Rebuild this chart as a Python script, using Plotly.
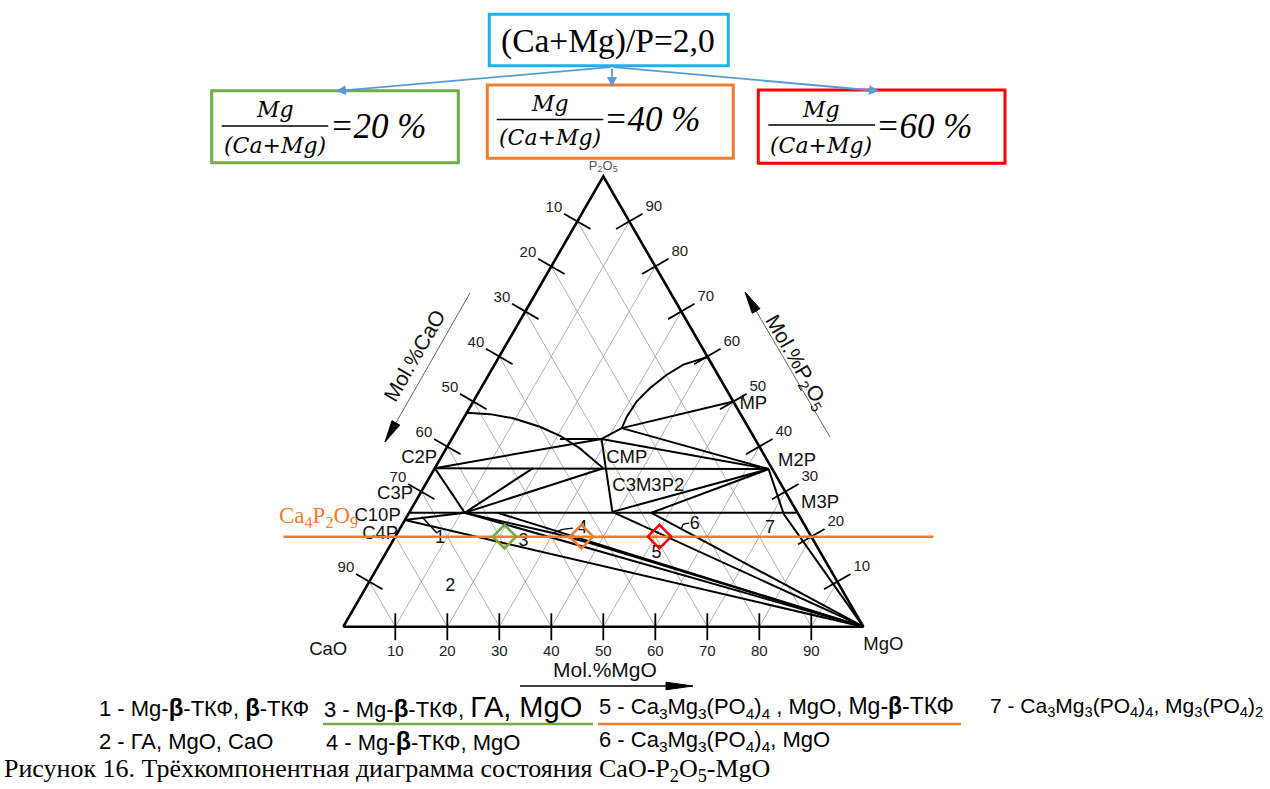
import plotly.graph_objects as go

W, H = 1270, 789

# ================= DATA (mol.%) =================
# every composition is given as (MgO %, P2O5 %);  CaO = 100 - MgO - P2O5

# scale ticks and grid
left_tick_cao = [10, 20, 30, 40, 50, 60, 70, 90]
right_tick_p2o5 = [10, 20, 30, 40, 50, 60, 70, 80, 90]
bottom_tick_mgo = [10, 20, 30, 40, 50, 60, 70, 80, 90]
grid_values = [10, 20, 30, 40, 50, 60, 70, 80, 90]

# phase boundaries and tie lines
curve_left_mgo = [0.0, 4.6, 9.5, 15.6, 20.5, 25.7, 29.6, 32.4]
curve_left_p2o5 = [47.5, 47.2, 46.3, 44.4, 42.4, 39.6, 37.0, 35.2]
curve_right_mgo = [31.5, 31.2, 31.4, 32.5, 34.2, 36.3, 40.1]
curve_right_p2o5 = [44.1, 46.7, 50.0, 53.0, 55.9, 58.2, 59.9]
c2p_m2p_mgo, c2p_m2p_p2o5 = [0.0, 64.3], [35.2, 35.0]
c2p_x_mgo, c2p_x_p2o5 = [0.0, 28.8], [35.2, 41.7]
x_m2p_mgo, x_m2p_p2o5 = [28.8, 64.3], [41.7, 35.0]
y_m2p_mgo, y_m2p_p2o5 = [31.5, 64.3], [44.1, 35.0]
x_y_mgo, x_y_p2o5 = [28.8, 31.5], [41.7, 44.1]
y_mp_mgo, y_mp_p2o5 = [31.5, 50.0], [44.1, 50.0]
top_seg_mgo, top_seg_p2o5 = [20.8, 28.8], [41.7, 41.7]
x_w_mgo, x_w_p2o5 = [28.8, 39.0], [41.7, 25.5]
w_m2p_mgo, w_m2p_p2o5 = [39.0, 64.3], [25.5, 35.0]
v_m2p_mgo, v_m2p_p2o5 = [46.6, 64.3], [25.3, 35.0]
c3p_m3p_mgo, c3p_m3p_p2o5 = [0.0, 74.7], [25.3, 25.3]
m2p_mgo_mgo, m2p_mgo_p2o5 = [64.3, 72.2, 100.0], [35.0, 25.0, 0.0]
w_mgo_mgo, w_mgo_p2o5 = [39.0, 100.0], [25.5, 0.0]
v_mgo_mgo, v_mgo_p2o5 = [46.6, 100.0], [25.3, 0.0]
c10p_z_mgo, c10p_z_p2o5 = [0.0, 10.7], [23.7, 25.3]
c10p_mgo_mgo, c10p_mgo_p2o5 = [0.0, 100.0], [23.7, 0.0]
z_c2p_mgo, z_c2p_p2o5 = [10.7, 0.0], [25.3, 35.2]
z_a_mgo, z_a_p2o5 = [10.7, 18.9], [25.3, 35.2]
z_e_mgo, z_e_p2o5 = [10.7, 32.4], [25.3, 35.2]
z_mgo_mgo, z_mgo_p2o5 = [10.7, 29.9, 38.1, 100.0], [25.3, 20.8, 18.6, 0.0]
z2_mgo_mgo, z2_mgo_p2o5 = [10.7, 100.0], [25.3, 0.0]
z3_mgo_mgo, z3_mgo_p2o5 = [17.0, 100.0], [25.3, 0.0]

# short leader marks next to field numbers 1, 4 and 6
leader1_mgo, leader1_p2o5 = [2.9, 7.6], [24.4, 20.8]
leader4_mgo, leader4_p2o5 = [29.9, 31.4, 33.2], [20.8, 21.6, 21.9]
leader6_mgo, leader6_p2o5 = [54.1, 54.0, 55.0], [21.7, 22.8, 23.0]

# Ca4P2O9 section line (P2O5 = 20 %)
section_mgo = [-21.5, 103.5]
section_p2o5 = [20.0, 20.0]

# studied compositions, Mg/(Ca+Mg) = 20, 40, 60 %
sample_mgo = [21.0, 35.8, 50.8]
sample_p2o5 = [20.0, 20.0, 20.0]
sample_colors = ["#70AD47", "#ED7D31", "#FF0000"]

# labels placed in composition space
phase_labels = ["C2P", "C3P", "C10P", "C4P", "CMP", "C3M3P2", "MP", "M2P", "M3P"]
phase_label_mgo = [-4.1, -4.7, -5.6, -3.2, 35.8, 43.1, 54.2, 68.9, 78.0]
phase_label_p2o5 = [37.4, 29.3, 24.4, 20.6, 37.4, 31.1, 49.3, 36.7, 27.4]
region_labels = ["1", "2", "3", "4", "5", "6", "7"]
region_label_mgo = [8.8, 16.1, 25.2, 35.0, 52.1, 56.3, 71.1]
region_label_p2o5 = [19.6, 8.9, 18.9, 21.9, 16.3, 22.6, 21.9]
vertex_labels = ["CaO", "MgO"]
vertex_label_mgo = [-0.3, 105.9]
vertex_label_p2o5 = [-5.2, -4.1]
apex_label_mgo, apex_label_p2o5 = [-1.1], [102.2]

legend_row1 = [
    "1 - Mg-<span style='font-size:24px'><b>β</b></span>-ТКФ, <span style='font-size:24px'><b>β</b></span>-ТКФ",
    "3 - Mg-<span style='font-size:24px'><b>β</b></span>-ТКФ, <span style='font-size:29px'>ГА, MgO</span>",
    "5 - Ca<sub>3</sub>Mg<sub>3</sub>(PO<sub>4</sub>)<sub>4</sub> , MgO, <span style='font-size:23px'>Mg-<b>β</b>-ТКФ</span>",
    "<span style='font-size:21px'>7 - Ca<sub>3</sub>Mg<sub>3</sub>(PO<sub>4</sub>)<sub>4</sub>, Mg<sub>3</sub>(PO<sub>4</sub>)<sub>2</sub></span>",
]
legend_row2 = [
    "2 - ГА, MgO, CaO",
    "4 - Mg-<span style='font-size:25px'><b>β</b></span>-ТКФ, MgO",
    "6 - Ca<sub>3</sub>Mg<sub>3</sub>(PO<sub>4</sub>)<sub>4</sub>, MgO",
]
ratio_values = ["20", "40", "60"]

# ================= helpers =================
S3 = 3 ** 0.5 / 2


def proj(mgo, p2o5):
    """ternary (MgO, P2O5) -> cartesian plane of the triangle (CaO at origin)"""
    xs, ys = [], []
    for m, p in zip(mgo, p2o5):
        if m is None:
            xs.append(None); ys.append(None)
        else:
            xs.append(m + p / 2); ys.append(p * S3)
    return dict(x=xs, y=ys)


def X(px):
    return px / W


def Y(py):
    return 1 - py / H


SANS = "Liberation Sans, Arial, sans-serif"
SERIF = "Liberation Serif, Times New Roman, serif"

fig = go.Figure()

# ---- grid (iso-CaO and iso-MgO lines) ----
gm, gp = [], []
for v in grid_values:
    gm += [v, v, None]; gp += [0, 100 - v, None]          # constant MgO
    gm += [100 - v, 0, None]; gp += [0, 100 - v, None]    # constant CaO
fig.add_trace(go.Scatter(**proj(gm, gp), mode="lines",
                         line=dict(color="#9c9c9c", width=0.8), hoverinfo="skip"))

# ---- phase boundary lines ----
lines = [
    (curve_left_mgo, curve_left_p2o5), (curve_right_mgo, curve_right_p2o5),
    (c2p_m2p_mgo, c2p_m2p_p2o5), (c2p_x_mgo, c2p_x_p2o5), (x_m2p_mgo, x_m2p_p2o5),
    (y_m2p_mgo, y_m2p_p2o5), (x_y_mgo, x_y_p2o5), (y_mp_mgo, y_mp_p2o5),
    (top_seg_mgo, top_seg_p2o5), (x_w_mgo, x_w_p2o5), (w_m2p_mgo, w_m2p_p2o5),
    (v_m2p_mgo, v_m2p_p2o5), (c3p_m3p_mgo, c3p_m3p_p2o5), (m2p_mgo_mgo, m2p_mgo_p2o5),
    (w_mgo_mgo, w_mgo_p2o5), (v_mgo_mgo, v_mgo_p2o5), (c10p_z_mgo, c10p_z_p2o5),
    (c10p_mgo_mgo, c10p_mgo_p2o5), (z_c2p_mgo, z_c2p_p2o5), (z_a_mgo, z_a_p2o5),
    (z_e_mgo, z_e_p2o5), (z_mgo_mgo, z_mgo_p2o5), (z2_mgo_mgo, z2_mgo_p2o5),
    (z3_mgo_mgo, z3_mgo_p2o5),
]
lm, lp = [], []
for mg, pp in lines:
    lm += list(mg) + [None]
    lp += list(pp) + [None]
fig.add_trace(go.Scatter(**proj(lm, lp), mode="lines",
                         line=dict(color="black", width=2), hoverinfo="skip"))

# ---- leader marks ----
ld_m, ld_p = [], []
for mg, pp in [(leader1_mgo, leader1_p2o5), (leader4_mgo, leader4_p2o5), (leader6_mgo, leader6_p2o5)]:
    ld_m += list(mg) + [None]
    ld_p += list(pp) + [None]
fig.add_trace(go.Scatter(**proj(ld_m, ld_p), mode="lines",
                         line=dict(color="black", width=1.4), hoverinfo="skip"))

# ---- triangle sides ----
fig.add_trace(go.Scatter(**proj([0, 100, 0, 0], [0, 0, 100, 0]), mode="lines",
                         line=dict(color="black", width=2.6), hoverinfo="skip"))

# ---- scale ticks (crossing the sides) ----
tl, tb = 3.4, 3.0
tm, tp = [], []
for v in left_tick_cao:
    tm += [-tl, tl, None]; tp += [100 - v + tl / 2, 100 - v - tl / 2, None]
for v in right_tick_p2o5:
    tm += [100 - v + tl / 2, 100 - v - tl / 2, None]; tp += [v + tl / 2, v - tl / 2, None]
for v in bottom_tick_mgo:
    tm += [v + tb / 2, v - tb / 2, None]; tp += [-tb, tb, None]
fig.add_trace(go.Scatter(**proj(tm, tp), mode="lines",
                         line=dict(color="black", width=1.8), hoverinfo="skip"))

# ---- tick labels ----
dl, dr, db = 6.0, 6.3, 5.7
km, kp, kt = [], [], []
for v in left_tick_cao:
    km.append(-dl); kp.append(100 - v + dl / 2); kt.append(str(v))
for v in right_tick_p2o5:
    km.append(100 - v + dr / 2); kp.append(v + dr / 2); kt.append(str(v))
for v in bottom_tick_mgo:
    km.append(v + db / 2); kp.append(-db); kt.append(str(v))
fig.add_trace(go.Scatter(**proj(km, kp), mode="text", text=kt,
                         textposition="middle center",
                         textfont=dict(family=SANS, size=15, color="#222"), hoverinfo="skip"))

# ---- compound / region / vertex labels ----
fig.add_trace(go.Scatter(**proj(phase_label_mgo, phase_label_p2o5), mode="text",
                         text=phase_labels, textposition="middle center",
                         textfont=dict(family=SANS, size=18.5, color="#111"), hoverinfo="skip"))
fig.add_trace(go.Scatter(**proj(region_label_mgo, region_label_p2o5), mode="text",
                         text=region_labels, textposition="middle center",
                         textfont=dict(family=SANS, size=18, color="#111"), hoverinfo="skip"))
fig.add_trace(go.Scatter(**proj(vertex_label_mgo, vertex_label_p2o5), mode="text",
                         text=vertex_labels, textposition="middle center",
                         textfont=dict(family=SANS, size=18.5, color="#111"), hoverinfo="skip"))
fig.add_trace(go.Scatter(**proj(apex_label_mgo, apex_label_p2o5), mode="text",
                         text=["P<sub>2</sub>O<sub>5</sub>"], textposition="middle center",
                         textfont=dict(family=SANS, size=13, color="#555"), hoverinfo="skip"))

# ---- Ca4P2O9 section line ----
fig.add_trace(go.Scatter(**proj(section_mgo, section_p2o5), mode="lines",
                         line=dict(color="#ED7D31", width=2.5), hoverinfo="skip"))

# ---- studied compositions ----
fig.add_trace(go.Scatter(**proj(sample_mgo, sample_p2o5), mode="markers",
                         marker=dict(symbol="diamond-open", size=18, color=sample_colors,
                                     line=dict(width=2.6, color=sample_colors)),
                         hoverinfo="skip"))

# plane -> page: 5.2 px per mol.% unit, CaO corner at (343.3, 626.7) px
PX_PER_UNIT = 5.2
X0_PX, Y0_PX = 343.3, 626.7
fig.update_layout(
    width=W, height=H, margin=dict(l=0, r=0, t=0, b=0),
    paper_bgcolor="white", plot_bgcolor="white", showlegend=False,
    xaxis=dict(visible=False, range=[-X0_PX / PX_PER_UNIT, (W - X0_PX) / PX_PER_UNIT],
               fixedrange=True),
    yaxis=dict(visible=False, range=[(Y0_PX - H) / PX_PER_UNIT, Y0_PX / PX_PER_UNIT],
               fixedrange=True),
)

shapes = []
annotations = []


def note(px, py, text, size, family=SANS, color="black", xanchor="center", angle=0):
    annotations.append(dict(x=X(px), y=Y(py), xref="paper", yref="paper", showarrow=False,
                            xanchor=xanchor, yanchor="middle", text=text, textangle=angle,
                            font=dict(family=family, size=size, color=color)))


# ---- header boxes ----
def box(x0, y0, x1, y1, color):
    shapes.append(dict(type="rect", xref="paper", yref="paper",
                       x0=X(x0), x1=X(x1), y0=Y(y1), y1=Y(y0),
                       line=dict(color=color, width=3), fillcolor="rgba(0,0,0,0)"))


box(489.3, 14.3, 728.3, 65.7, "#1EB1EC")
box(211.7, 90.7, 458.3, 162.7, "#70AD47")
box(487.3, 85.0, 733.3, 158.3, "#ED7D31")
box(758.3, 90.0, 1005.0, 163.3, "#FF0000")

note(608, 41, "(Ca+Mg)/P=2,0", 33.5, family=SERIF)

# blue arrows from the top box
for hx, hy in [(336, 91), (612, 87), (879, 91)]:
    annotations.append(dict(x=X(hx), y=Y(hy), xref="paper", yref="paper",
                            ax=612 - hx, ay=67 - hy, axref="pixel", ayref="pixel",
                            text="", showarrow=True, arrowhead=2, arrowsize=1.1,
                            arrowwidth=1.8, arrowcolor="#5B9BD5", standoff=0))

# fractions Mg/(Ca+Mg) = ...
frac_pos = [  # (num centre x, num y, bar x0, bar x1, bar y, den y, eq left x, eq y)
    (275, 109, 221.7, 328.3, 126, 145, 328, 126),
    (550, 103, 496.7, 603.3, 119.5, 138, 602, 119),
    (821, 109, 768.3, 875.0, 125, 145, 874, 127),
]
for (nx, ny, bx0, bx1, by, dy, ex, ey), val in zip(frac_pos, ratio_values):
    note(nx, ny, "<i>Mg</i>", 22, family="DejaVu Serif")
    note(nx, dy, "<i>(Ca+Mg)</i>", 22, family="DejaVu Serif")
    shapes.append(dict(type="line", xref="paper", yref="paper", x0=X(bx0), x1=X(bx1),
                       y0=Y(by), y1=Y(by), line=dict(color="black", width=1.5)))
    note(ex, ey, "<i>=" + val + " %</i>", 35, family=SERIF, xanchor="left")

# ---- axis captions with arrows ----
note(414, 355, "Mol.%CaO", 21, color="#111", angle=-60)
note(796, 362, "Mol.%P<sub>2</sub>O<sub>5</sub>", 21, color="#111", angle=60)
note(605, 669, "Mol.%MgO", 21, color="#111")


def arrow(tail, tip, head_len, half_w, color, lw):
    tx, ty = tail
    hx, hy = tip
    dx, dy = hx - tx, hy - ty
    L = (dx * dx + dy * dy) ** 0.5
    ux, uy = dx / L, dy / L
    bx, by = hx - ux * head_len, hy - uy * head_len
    shapes.append(dict(type="line", xref="paper", yref="paper",
                       x0=X(tx), y0=Y(ty), x1=X(bx), y1=Y(by),
                       line=dict(color=color, width=lw)))
    px_, py_ = -uy, ux
    pts = [(hx, hy), (bx + px_ * half_w, by + py_ * half_w), (bx - px_ * half_w, by - py_ * half_w)]
    path = "M " + " L ".join(f"{X(a):.5f},{Y(b):.5f}" for a, b in pts) + " Z"
    shapes.append(dict(type="path", xref="paper", yref="paper", path=path,
                       fillcolor="black", line=dict(color="black", width=1)))


arrow((470, 293), (385, 442), 22, 4.5, "#666", 1)
arrow((830, 437), (745, 292), 22, 4.5, "#666", 1)
arrow((520, 686), (693, 686), 27, 3.8, "black", 1.5)

# ---- Ca4P2O9 label ----
note(318, 517, "Ca<sub>4</sub>P<sub>2</sub>O<sub>9</sub>", 23, family=SERIF, color="#ED7D31")

# ---- legend ----
row1_x = [97, 322, 597, 988]
row2_x = [97, 324, 597]
for t, x in zip(legend_row1, row1_x):
    note(x, 707, t, 22, xanchor="left")
for t, x in zip(legend_row2, row2_x):
    note(x, 741, t, 22, xanchor="left")
shapes.append(dict(type="line", xref="paper", yref="paper", x0=X(323), x1=X(593),
                   y0=Y(724), y1=Y(724), line=dict(color="#70AD47", width=2.5)))
shapes.append(dict(type="line", xref="paper", yref="paper", x0=X(598), x1=X(961),
                   y0=Y(724), y1=Y(724), line=dict(color="#ED7D31", width=2.5)))

# ---- caption ----
note(2, 770, "Рисунок 16. Трёхкомпонентная диаграмма состояния CaO-P<sub>2</sub>O<sub>5</sub>-MgO",
     26, family=SERIF, xanchor="left")

fig.update_layout(shapes=shapes, annotations=annotations)

fig.write_html("out.html", config={"displayModeBar": False},
               post_script="document.body.style.margin='0px';")
